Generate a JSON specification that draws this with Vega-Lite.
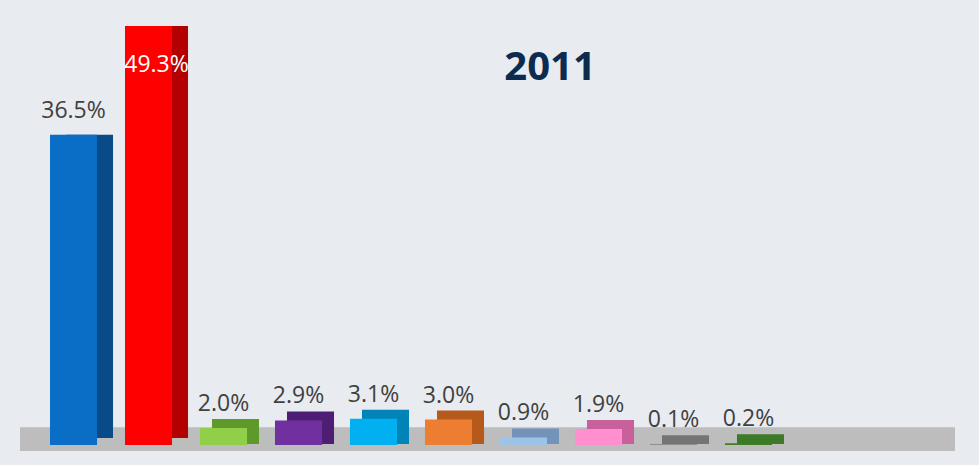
{
  "$schema": "https://vega.github.io/schema/vega-lite/v6.json",
  "width": 872,
  "height": 448,
  "autosize": {"type": "none"},
  "padding": {"left": 20, "top": 3, "right": 87, "bottom": 14},
  "background": "#e8ebef",
  "config": {"view": {"stroke": null, "fill": "#e8ebef"}, "font": "Open Sans"},
  "title": {
    "text": "2011",
    "font": "Open Sans",
    "fontSize": 40,
    "fontWeight": "bold",
    "color": "#0d2a4f",
    "anchor": "middle",
    "frame": "group",
    "orient": "top",
    "offset": 0,
    "baseline": "middle",
    "dx": 94,
    "dy": 105
  },
  "data": {
    "values": [
      {"party": "A", "value": 0.365},
      {"party": "B", "value": 0.493},
      {"party": "C", "value": 0.020},
      {"party": "D", "value": 0.029},
      {"party": "E", "value": 0.031},
      {"party": "F", "value": 0.030},
      {"party": "G", "value": 0.009},
      {"party": "H", "value": 0.019},
      {"party": "I", "value": 0.001},
      {"party": "J", "value": 0.002}
    ]
  },
  "layer": [
    {
      "data": {"values": [{}]},
      "mark": {"type": "rect", "color": "#bdbdbd", "xOffset": 63},
      "encoding": {
        "y": {"datum": 0.021, "type": "quantitative", "scale": {"domain": [-0.007, 0.52], "nice": false, "zero": false}, "axis": null},
        "y2": {"datum": -0.007}
      }
    },
    {
      "transform": [{"filter": "datum.value >= 0.1"}],
      "mark": {"type": "bar", "xOffset": 16, "y2Offset": -7},
      "encoding": {
        "x": {"field": "party", "type": "nominal", "sort": null, "axis": null, "scale": {"domain": ["A","B","C","D","E","F","G","H","I","J"], "paddingInner": 0.373, "paddingOuter": 1, "align": 0.2}},
        "y": {"field": "value", "type": "quantitative"},
        "y2": {"datum": 0},
        "color": {"field": "party", "type": "nominal", "legend": null, "scale": {"domain": ["A","B","C","D","E","F","G","H","I","J"], "range": ["#084b86", "#b30000", "#5e9a2a", "#4d1e73", "#0084b8", "#b55a1a", "#7393bb", "#c7609b", "#747474", "#3c7a28"]}}
      }
    },
    {
      "transform": [{"filter": "datum.value < 0.1"}],
      "mark": {"type": "bar", "xOffset": 12, "yOffset": -9, "y2Offset": -1},
      "encoding": {
        "x": {"field": "party", "type": "nominal", "sort": null, "axis": null},
        "y": {"field": "value", "type": "quantitative"},
        "y2": {"datum": 0},
        "color": {"field": "party", "type": "nominal", "legend": null}
      }
    },
    {
      "mark": {"type": "bar"},
      "encoding": {
        "x": {"field": "party", "type": "nominal", "sort": null, "axis": null},
        "y": {"field": "value", "type": "quantitative"},
        "y2": {"datum": 0},
        "fill": {"field": "party", "type": "nominal", "legend": null, "scale": {"domain": ["A","B","C","D","E","F","G","H","I","J"], "range": ["#0b6ec6", "#ff0000", "#8fcf4a", "#7030a0", "#00b0f0", "#ed7d31", "#9dc3e6", "#ff8fcf", "#7f7f7f", "#3f7f1f"]}}
      }
    },
    {
      "transform": [{"filter": "datum.value < 0.45"}],
      "mark": {"type": "text", "dy": -17, "baseline": "alphabetic", "fontSize": 23, "color": "#404040", "font": "Open Sans"},
      "encoding": {
        "x": {"field": "party", "type": "nominal", "sort": null, "axis": null, "bandPosition": 0.5},
        "y": {"field": "value", "type": "quantitative"},
        "text": {"field": "value", "type": "quantitative", "format": ".1%"}
      }
    },
    {
      "transform": [{"filter": "datum.value >= 0.45"}],
      "mark": {"type": "text", "dy": 46, "dx": 8, "baseline": "alphabetic", "fontSize": 23, "color": "#ffffff", "font": "Open Sans"},
      "encoding": {
        "x": {"field": "party", "type": "nominal", "sort": null, "axis": null, "bandPosition": 0.5},
        "y": {"field": "value", "type": "quantitative"},
        "text": {"field": "value", "type": "quantitative", "format": ".1%"}
      }
    }
  ]
}
